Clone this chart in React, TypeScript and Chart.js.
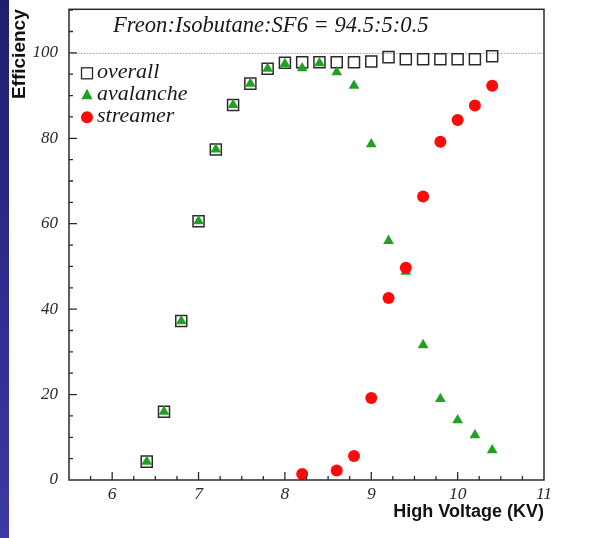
import React, { useEffect, useRef } from "react";
import { Chart, registerables } from "chart.js";

Chart.register(...registerables);

// ---- data ----
const voltages = [6.4, 6.6, 6.8, 7.0, 7.2, 7.4, 7.6, 7.8, 8.0, 8.2, 8.4, 8.6, 8.8, 9.0, 9.2, 9.4, 9.6, 9.8, 10.0, 10.2, 10.4];
const overall = [4.3, 16.0, 37.2, 60.6, 77.4, 87.8, 92.8, 96.3, 97.7, 97.8, 97.8, 97.8, 97.8, 98.0, 99.0, 98.5, 98.5, 98.5, 98.5, 98.5, 99.2];
const avalanche = [4.3, 16.0, 37.2, 60.6, 77.4, 87.8, 92.8, 96.3, 97.4, 96.4, 97.6, 95.5, 92.3, 78.6, 56.0, 48.8, 31.6, 19.0, 14.0, 10.5, 7.0];
const streamerVoltages = [8.2, 8.6, 8.8, 9.0, 9.2, 9.4, 9.6, 9.8, 10.0, 10.2, 10.4];
const streamer = [1.4, 2.2, 5.6, 19.2, 42.6, 49.7, 66.4, 79.2, 84.3, 87.7, 92.3];

const seriesLabels = ["overall", "avalanche", "streamer"];
const xTickValues = [6, 7, 8, 9, 10, 11];
const yTickValues = [0, 20, 40, 60, 80, 100];
const xRange = [5.5, 11];
const yRange = [0, 110.2];
const xMinorStep = 0.25;
const yMinorStep = 5;
const referenceLevel = 100;
const annotationText = "Freon:Isobutane:SF6 = 94.5:5:0.5";
const xTitle = "High Voltage (KV)";
const yTitle = "Efficiency";

const SERIF = "'Liberation Serif', 'DejaVu Serif', serif";
const SANS = "'Liberation Sans', Arial, sans-serif";
const GREEN = "#22a022";
const RED = "#ff0a0a";
const DARK = "#2a2a2a";

const decorPlugin = {
  id: "decor",
  beforeDatasetsDraw(chart: any) {
    const { ctx, chartArea, scales } = chart;
    const py = scales.y.getPixelForValue(referenceLevel);
    ctx.save();
    ctx.strokeStyle = "#9a9a9a";
    ctx.lineWidth = 1;
    ctx.setLineDash([1.5, 1.5]);
    ctx.beginPath();
    ctx.moveTo(chartArea.left, py + 0.5);
    ctx.lineTo(chartArea.right, py + 0.5);
    ctx.stroke();
    ctx.restore();
  },
  afterDraw(chart: any) {
    const { ctx, chartArea, scales } = chart;
    const { left, right, top, bottom } = chartArea;
    ctx.save();
    // frame
    ctx.strokeStyle = DARK;
    ctx.lineWidth = 1.5;
    ctx.strokeRect(left, top, right - left, bottom - top);
    // inward ticks
    ctx.lineWidth = 1.3;
    ctx.beginPath();
    const nx = Math.round((xRange[1] - xRange[0]) / xMinorStep);
    for (let i = 1; i < nx; i++) {
      const v = xRange[0] + i * xMinorStep;
      const major = Math.abs(v - Math.round(v)) < 1e-6;
      const px = scales.x.getPixelForValue(v);
      ctx.moveTo(px, bottom);
      ctx.lineTo(px, bottom - (major ? 8 : 4));
    }
    const ny = Math.floor((yRange[1] - yRange[0]) / yMinorStep);
    for (let i = 1; i <= ny; i++) {
      const v = yRange[0] + i * yMinorStep;
      const major = v % 20 === 0;
      const py = scales.y.getPixelForValue(v);
      ctx.moveTo(left, py);
      ctx.lineTo(left + (major ? 8 : 4), py);
    }
    ctx.stroke();

    // annotation text
    ctx.fillStyle = "#1a1a1a";
    ctx.font = `italic 22.6px ${SERIF}`;
    ctx.textAlign = "left";
    ctx.textBaseline = "alphabetic";
    ctx.fillText(annotationText, left + 44, top + 23);

    // legend
    const mx = left + 18;
    const tx = left + 28;
    const baselines = [top + 69, top + 91, top + 113];
    ctx.font = `italic 22px ${SERIF}`;
    seriesLabels.forEach((label, i) => {
      const by = baselines[i];
      const cy = by - 5;
      if (i === 0) {
        ctx.strokeStyle = DARK;
        ctx.lineWidth = 1.3;
        ctx.strokeRect(mx - 5.5, cy - 5.5, 11, 11);
      } else if (i === 1) {
        ctx.fillStyle = GREEN;
        ctx.beginPath();
        ctx.moveTo(mx, cy - 6.5);
        ctx.lineTo(mx + 5.6, cy + 4);
        ctx.lineTo(mx - 5.6, cy + 4);
        ctx.closePath();
        ctx.fill();
      } else {
        ctx.fillStyle = RED;
        ctx.beginPath();
        ctx.arc(mx, cy, 6, 0, Math.PI * 2);
        ctx.fill();
      }
      ctx.fillStyle = "#1a1a1a";
      ctx.fillText(label, tx, by);
    });
    ctx.restore();
  },
};

export default function App() {
  const canvasRef = useRef<HTMLCanvasElement | null>(null);

  useEffect(() => {
    const canvas = canvasRef.current;
    if (!canvas) return;
    const chart = new Chart(canvas, {
      type: "scatter",
      data: {
        datasets: [
          {
            label: seriesLabels[0],
            data: voltages.map((x, i) => ({ x, y: overall[i] })),
            pointStyle: "rect",
            pointRadius: 7.8,
            pointBorderWidth: 1.5,
            borderColor: DARK,
            backgroundColor: "rgba(0,0,0,0)",
            order: 2,
          },
          {
            label: seriesLabels[1],
            data: voltages.map((x, i) => ({ x, y: avalanche[i] })),
            pointStyle: "triangle",
            pointRadius: 6.2,
            pointBorderWidth: 0,
            borderColor: GREEN,
            backgroundColor: GREEN,
            order: 1,
          },
          {
            label: seriesLabels[2],
            data: streamerVoltages.map((x, i) => ({ x, y: streamer[i] })),
            pointStyle: "circle",
            pointRadius: 6,
            pointBorderWidth: 0,
            borderColor: RED,
            backgroundColor: RED,
            order: 0,
          },
        ],
      },
      options: {
        responsive: false,
        animation: false,
        devicePixelRatio: 1,
        layout: { padding: { left: 0, right: 53, top: 6, bottom: 0 } },
        plugins: {
          legend: { display: false },
          tooltip: { enabled: false },
        },
        scales: {
          x: {
            type: "linear",
            min: xRange[0],
            max: xRange[1],
            afterBuildTicks: (s: any) => {
              s.ticks = xTickValues.map((v) => ({ value: v }));
            },
            afterFit: (s: any) => {
              s.height = 58;
              s.paddingLeft = 0;
              s.paddingRight = 0;
            },
            grid: { display: false, drawTicks: false },
            border: { display: false },
            ticks: {
              padding: 4,
              color: DARK,
              font: { family: SERIF, size: 17.5, style: "italic" },
              maxRotation: 0,
              autoSkip: false,
            },
            title: {
              display: true,
              text: xTitle,
              align: "end",
              color: "#111",
              font: { family: SANS, size: 18, weight: "bold" },
              padding: { top: 0, bottom: 15 },
            },
          },
          y: {
            type: "linear",
            min: yRange[0],
            max: yRange[1],
            afterBuildTicks: (s: any) => {
              s.ticks = yTickValues.map((v) => ({ value: v }));
            },
            afterFit: (s: any) => {
              s.width = 69;
              s.paddingTop = 0;
              s.paddingBottom = 0;
            },
            grid: { display: false, drawTicks: false },
            border: { display: false },
            ticks: {
              padding: 11,
              color: DARK,
              font: { family: SERIF, size: 17, style: "italic" },
              autoSkip: false,
            },
            title: {
              display: true,
              text: yTitle,
              align: "end",
              color: "#111",
              font: { family: SANS, size: 19, weight: "bold" },
              padding: { top: 8, bottom: 0 },
            },
          },
        },
      },
      plugins: [decorPlugin],
    } as any);
    return () => chart.destroy();
  }, []);

  return (
    <div
      style={{
        position: "fixed",
        left: 0,
        top: 0,
        width: 597,
        height: 538,
        background: "#ffffff",
        overflow: "hidden",
      }}
    >
      <canvas
        ref={canvasRef}
        width={597}
        height={538}
        style={{ position: "absolute", left: 0, top: 0, width: 597, height: 538 }}
      />
      <div
        style={{
          position: "absolute",
          left: 0,
          top: 0,
          width: 9,
          height: 538,
          background: "linear-gradient(180deg, #1e1e6e 0%, #2c2c8c 50%, #3a3aa4 100%)",
        }}
      />
    </div>
  );
}
